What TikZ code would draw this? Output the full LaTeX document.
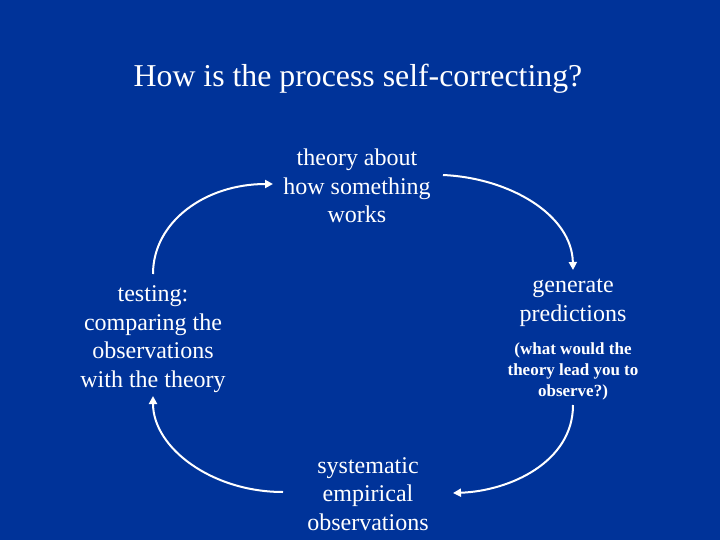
\documentclass[tikz,border=0pt]{standalone}
\usepackage{fontspec}
\setmainfont{Liberation Serif}
\usetikzlibrary{arrows.meta}
\definecolor{bg}{HTML}{003399}
\tikzset{
  lbl/.style={text=white, align=center, inner sep=0pt, font=\fontsize{24}{28.5}\selectfont},
  small/.style={text=white, align=center, inner sep=0pt, font=\fontsize{17}{21}\selectfont\bfseries},
  cyc/.style={draw=white, line width=2pt, -{Triangle[width=8pt,length=8pt]}}
}
\begin{document}
\begin{tikzpicture}[x=1pt,y=-1pt]
\fill[bg] (0,0) rectangle (720,540);
\useasboundingbox (0,0) rectangle (720,540);
\node[text=white, inner sep=0pt, font=\fontsize{31.8}{36}\selectfont] (title) at (358,79) {How is the process self-correcting?};
\node[lbl] (theory) at (357,186) {theory about\\how something\\works};
\node[lbl] (testing) at (153,339) {testing:\\comparing the\\observations\\with the theory};
\node[lbl] (gen) at (573,303) {generate\\predictions};
\node[small] (what) at (573,371) {(what would the\\theory lead you to\\observe?)};
\node[lbl] (obs) at (368,494) {systematic\\empirical\\observations};
\coordinate (a1s) at (153,274); \coordinate (a1e) at (273,184);
\coordinate (a2s) at (443,175); \coordinate (a2e) at (573,270);
\coordinate (a3s) at (573,405); \coordinate (a3e) at (453,493);
\coordinate (a4s) at (283,492); \coordinate (a4e) at (153,396);
\draw[cyc] (a1s) .. controls (153,222) and (205,184) .. (a1e);
\draw[cyc] (a2s) .. controls (510,178) and (572,215) .. (a2e);
\draw[cyc] (a3s) .. controls (573,462) and (510,491) .. (a3e);
\draw[cyc] (a4s) .. controls (212,492) and (153,448) .. (a4e);
\end{tikzpicture}
\end{document}
